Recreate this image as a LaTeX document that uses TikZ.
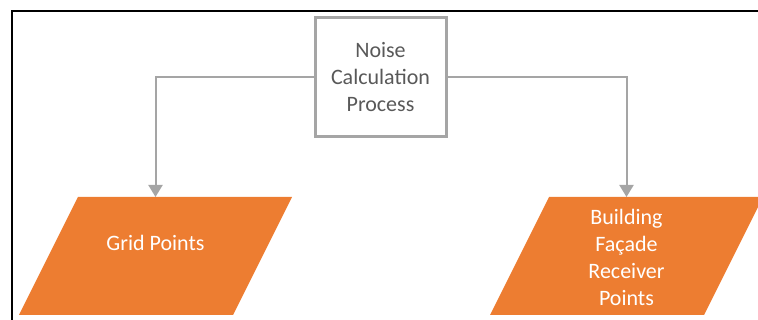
\documentclass[tikz,border=0pt]{standalone}
\usepackage{fontspec}
\setmainfont{Carlito}
\usetikzlibrary{arrows.meta}
\definecolor{boxgray}{HTML}{A5A5A5}
\definecolor{txtgray}{HTML}{595959}
\definecolor{accorange}{HTML}{ED7D31}
\begin{document}
\begin{tikzpicture}[x=1pt, y=-1pt,
    procbox/.style={draw=boxgray, line width=3pt, fill=white,
      minimum width=131pt, minimum height=119pt, inner sep=0pt,
      text=txtgray, align=center},
    inout/.style={fill=accorange, draw=none},
    intext/.style={text=white, align=center},
    conn/.style={draw=boxgray, line width=2pt,
      -{Triangle[width=14pt,length=12pt]}}]
  \useasboundingbox (0,0) rectangle (758,320);
  \clip (0,0) rectangle (758,320);
  \fontsize{22}{27}\selectfont
  % frame (only top and left visible)
  \draw[line width=1.5pt] (12,320) -- (12,11) -- (758,11);
  % process
  \node[procbox] (calc) at (380.5,77.5) {Noise\\Calculation\\Process};
  % outputs (parallelograms)
  \coordinate (grid) at (155.5,256);
  \coordinate (facade) at (626.5,256);
  \foreach \c in {grid,facade}
    \fill[inout, shift={(\c)}] (-136.5,59) -- (-77.5,-59) -- (136.5,-59) -- (77.5,59) -- cycle;
  \coordinate (gridtop) at (155.5,197);
  \coordinate (facadetop) at (626.5,197);
  \node[intext] (gridtxt) at (155.5,243) {Grid Points};
  \node[intext] (facadetxt) at (626.5,257) {Building\\Fa\c{c}ade\\Receiver\\Points};
  % connectors
  \draw[conn] (calc.west) -| (gridtop);
  \draw[conn] (calc.east) -| (facadetop);
\end{tikzpicture}
\end{document}
